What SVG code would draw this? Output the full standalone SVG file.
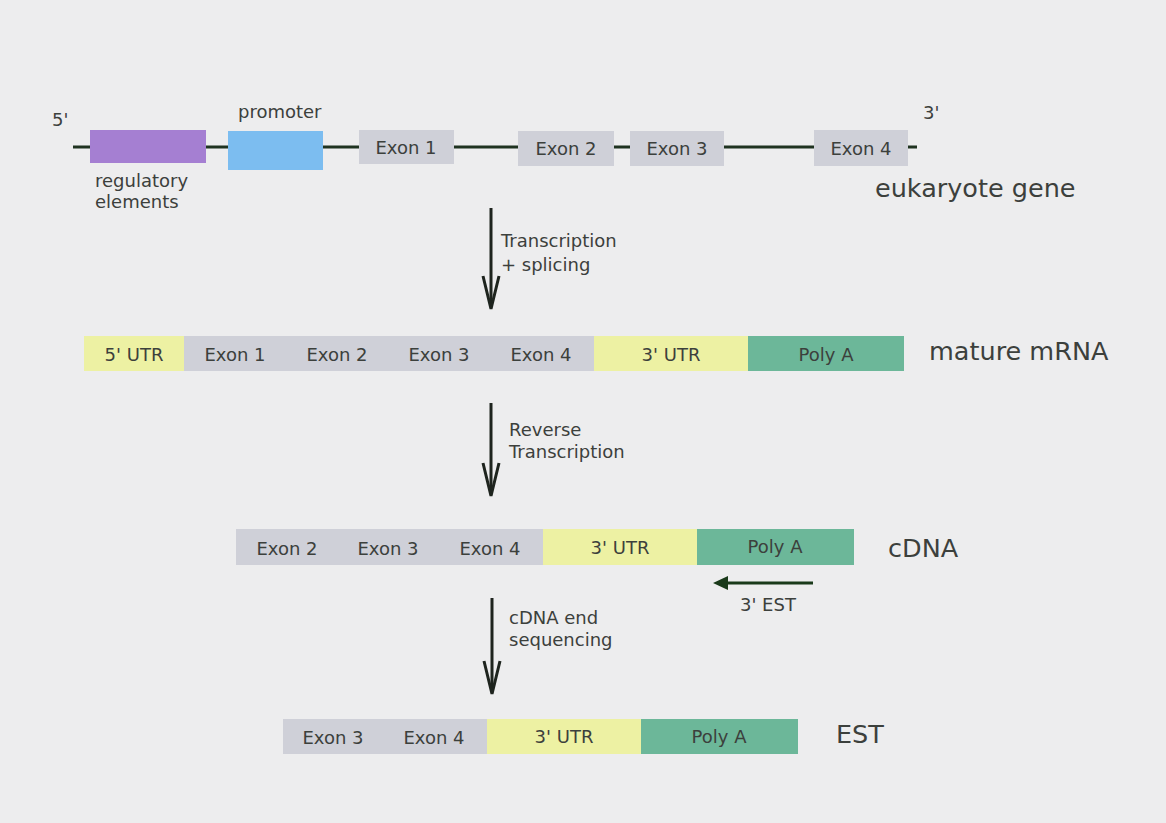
<svg xmlns="http://www.w3.org/2000/svg" width="1166" height="823" viewBox="0 0 1166 823">
<style>
text{font-family:"DejaVu Sans",Verdana,sans-serif;fill:#3c403c}
.l{font-size:18px}
.b{font-size:18px;text-anchor:middle}
.big{font-size:25.5px}
.ex{fill:#cfd0d8}
.utr{fill:#edf1a3}
.pa{fill:#6cb799}
.arr{stroke:#1e241e;stroke-width:3;fill:none}
</style>
<defs>
<marker id="fh" markerWidth="15" markerHeight="14" refX="3" refY="7" orient="auto" markerUnits="userSpaceOnUse">
<path d="M0,0 L15,7 L0,14 Z" fill="#1a3a1a"/>
</marker>
</defs>
<rect width="1166" height="823" fill="#ededee"/>
<g id="gene">
<line x1="73" y1="147" x2="917" y2="147" stroke="#1f3320" stroke-width="3"/>
<g id="regulatory"><rect x="90" y="130" width="116" height="33" fill="#a57fd2"/><text class="l" x="95" y="187">regulatory</text><text class="l" x="95" y="208">elements</text></g>
<g id="promoter"><rect x="228" y="131" width="95" height="39" fill="#7cbdf0"/><text class="l" x="238" y="118">promoter</text></g>
<g id="gexon1"><rect class="ex" x="359" y="130" width="95" height="34"/><text class="b" x="406" y="154">Exon 1</text></g>
<g id="gexon2"><rect class="ex" x="518" y="131" width="96" height="35"/><text class="b" x="566" y="155">Exon 2</text></g>
<g id="gexon3"><rect class="ex" x="630" y="131" width="94" height="35"/><text class="b" x="677" y="155">Exon 3</text></g>
<g id="gexon4"><rect class="ex" x="814" y="130" width="94" height="36"/><text class="b" x="861" y="155">Exon 4</text></g>
<text class="l" x="52" y="126">5'</text>
<text class="l" x="923" y="119">3'</text>
<text class="big" x="875" y="197">eukaryote gene</text>
</g>
<g id="mrna">
<rect class="utr" x="84" y="336" width="100" height="35"/>
<rect class="ex" x="184" y="336" width="410" height="35"/>
<rect class="utr" x="594" y="336" width="154" height="35"/>
<rect class="pa" x="748" y="336" width="156" height="35"/>
<text class="b" x="134" y="361">5' UTR</text>
<text class="b" x="235" y="361">Exon 1</text>
<text class="b" x="337" y="361">Exon 2</text>
<text class="b" x="439" y="361">Exon 3</text>
<text class="b" x="541" y="361">Exon 4</text>
<text class="b" x="671" y="361">3' UTR</text>
<text class="b" x="826" y="361">Poly A</text>
<text class="big" x="929" y="360">mature mRNA</text>
</g>
<g id="cdna">
<rect class="ex" x="236" y="529" width="307" height="36"/>
<rect class="utr" x="543" y="529" width="154" height="36"/>
<rect class="pa" x="697" y="529" width="157" height="36"/>
<text class="b" x="287" y="555">Exon 2</text>
<text class="b" x="388" y="555">Exon 3</text>
<text class="b" x="490" y="555">Exon 4</text>
<text class="b" x="620" y="554">3' UTR</text>
<text class="b" x="775" y="553">Poly A</text>
<text class="big" x="888" y="557">cDNA</text>
<text class="l" x="740" y="611">3' EST</text>
</g>
<g id="est">
<rect class="ex" x="283" y="719" width="204" height="35"/>
<rect class="utr" x="487" y="719" width="154" height="35"/>
<rect class="pa" x="641" y="719" width="157" height="35"/>
<text class="b" x="333" y="744">Exon 3</text>
<text class="b" x="434" y="744">Exon 4</text>
<text class="b" x="564" y="743">3' UTR</text>
<text class="b" x="719" y="743">Poly A</text>
<text class="big" x="836" y="743">EST</text>
</g>
<g id="connectors">
<line class="arr" x1="491" y1="208" x2="491" y2="306"/>
<polyline class="arr" points="483,276 491,309 499,276"/>
<text class="l" x="501" y="247">Transcription</text>
<text class="l" x="501" y="271">+ splicing</text>
<line class="arr" x1="491" y1="403" x2="491" y2="493"/>
<polyline class="arr" points="483,463 491,496 499,463"/>
<text class="l" x="509" y="436">Reverse</text>
<text class="l" x="509" y="458">Transcription</text>
<line class="arr" x1="492" y1="598" x2="492" y2="691"/>
<polyline class="arr" points="484,661 492,694 500,661"/>
<text class="l" x="509" y="624">cDNA end</text>
<text class="l" x="509" y="646">sequencing</text>
<line x1="813" y1="583" x2="725" y2="583" stroke="#1a3a1a" stroke-width="3" marker-end="url(#fh)"/>
</g>
</svg>
